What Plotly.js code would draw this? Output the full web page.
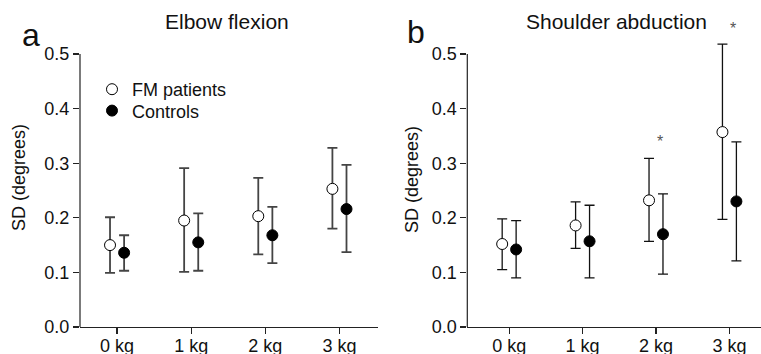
<!DOCTYPE html>
<html>
<head>
<meta charset="utf-8">
<script src="https://cdn.plot.ly/plotly-3.0.1.min.js"></script>
<style>html,body{margin:0;padding:0;background:#fff;}#chart{width:761px;height:354px;}</style>
</head>
<body>
<div id="chart"></div>
<script>
// ---- data ----
var categories = ['0 kg', '1 kg', '2 kg', '3 kg'];
var seriesNames = ['FM patients', 'Controls'];
var yTicks = [0, 0.1, 0.2, 0.3, 0.4, 0.5];

var elbowFM      = [0.150, 0.195, 0.203, 0.253];
var elbowFMHigh  = [0.201, 0.291, 0.273, 0.328];
var elbowFMLow   = [0.099, 0.101, 0.133, 0.180];
var elbowCtrl     = [0.136, 0.155, 0.168, 0.216];
var elbowCtrlHigh = [0.168, 0.208, 0.220, 0.297];
var elbowCtrlLow  = [0.103, 0.103, 0.117, 0.137];

var shoulderFM      = [0.152, 0.186, 0.232, 0.357];
var shoulderFMHigh  = [0.198, 0.229, 0.309, 0.518];
var shoulderFMLow   = [0.105, 0.144, 0.157, 0.197];
var shoulderCtrl     = [0.142, 0.157, 0.170, 0.230];
var shoulderCtrlHigh = [0.195, 0.223, 0.244, 0.339];
var shoulderCtrlLow  = [0.090, 0.090, 0.097, 0.121];

var sigCategories = ['2 kg', '3 kg'];
var sigValues = [0.340, 0.547];

// ---- build ----
var FONT = 'Arial, "Liberation Sans", Helvetica, sans-serif';
var idx = categories.map(function (c, i) { return i; });
function shift(d) { return idx.map(function (i) { return i + d; }); }
function up(hi, v) { return hi.map(function (h, i) { return +(h - v[i]).toFixed(4); }); }
function down(lo, v) { return lo.map(function (l, i) { return +(v[i] - l).toFixed(4); }); }

function trace(x, y, hi, lo, filled, name, xa, ya, showleg, leg, ecol, ethick) {
  return {
    type: 'scatter', mode: 'markers', x: x, y: y, name: name,
    xaxis: xa, yaxis: ya, showlegend: showleg, legend: leg,
    cliponaxis: false,
    marker: { symbol: 'circle', size: 11, color: filled ? '#000' : '#fff',
              line: { color: '#000', width: 1 } },
    error_y: { type: 'data', symmetric: false, array: up(hi, y), arrayminus: down(lo, y),
               color: ecol, thickness: ethick, width: 5 }
  };
}

var off = 0.095;
var data = [
  trace(shift(-off), elbowFM, elbowFMHigh, elbowFMLow, false, seriesNames[0], 'x', 'y', true, 'legend', '#444', 1.8),
  trace(shift(off), elbowCtrl, elbowCtrlHigh, elbowCtrlLow, true, seriesNames[1], 'x', 'y', true, 'legend2', '#444', 1.8),
  trace(shift(-off), shoulderFM, shoulderFMHigh, shoulderFMLow, false, seriesNames[0], 'x2', 'y2', false, 'legend', '#111', 1.3),
  trace(shift(off), shoulderCtrl, shoulderCtrlHigh, shoulderCtrlLow, true, seriesNames[1], 'x2', 'y2', false, 'legend2', '#111', 1.3)
];

var W = 761, H = 354;
function px(x) { return x / W; }
function py(y) { return (H - y) / H; }

function xax(domain, range, anchor) {
  return {
    domain: domain, range: range, anchor: anchor, showgrid: false, zeroline: false,
    showline: true, linecolor: '#222', linewidth: 1.2,
    ticks: 'outside', ticklen: 6, tickwidth: 1.2, tickcolor: '#222',
    tickvals: idx, ticktext: categories, ticklabelstandoff: -4,
    tickfont: { family: FONT, size: 18, color: '#111' }, fixedrange: true
  };
}
function yax(anchor) {
  return {
    domain: [py(327), py(21.24)], range: [0, 0.56], anchor: anchor,
    showgrid: false, zeroline: false, showline: false,
    ticks: 'outside', ticklen: 6, tickwidth: 1.2, tickcolor: '#222',
    tickvals: yTicks, tickformat: '.1f',
    tickfont: { family: FONT, size: 18, color: '#111' }, fixedrange: true
  };
}

var shapes = [
  { type: 'line', xref: 'x domain', yref: 'y', x0: 0, x1: 0, y0: 0, y1: yTicks[yTicks.length - 1],
    line: { color: '#222', width: 1.2 } },
  { type: 'line', xref: 'x2 domain', yref: 'y2', x0: 0, x1: 0, y0: 0, y1: yTicks[yTicks.length - 1],
    line: { color: '#222', width: 1.2 } }
];

var annotations = [
  { text: 'Elbow flexion', x: px(227), y: py(22), xref: 'paper', yref: 'paper', showarrow: false,
    xanchor: 'center', yanchor: 'middle', font: { family: FONT, size: 21, color: '#111' } },
  { text: 'Shoulder abduction', x: px(616), y: py(22), xref: 'paper', yref: 'paper', showarrow: false,
    xanchor: 'center', yanchor: 'middle', font: { family: FONT, size: 21, color: '#111' } },
  { text: 'a', x: px(31), y: py(35), xref: 'paper', yref: 'paper', showarrow: false,
    xanchor: 'center', yanchor: 'middle', font: { family: FONT, size: 32, color: '#111' } },
  { text: 'b', x: px(416), y: py(32), xref: 'paper', yref: 'paper', showarrow: false,
    xanchor: 'center', yanchor: 'middle', font: { family: FONT, size: 32, color: '#111' } },
  { text: 'SD (degrees)', x: px(19), y: py(178), xref: 'paper', yref: 'paper', showarrow: false,
    textangle: -90, xanchor: 'center', yanchor: 'middle', font: { family: FONT, size: 18, color: '#111' } },
  { text: 'SD (degrees)', x: px(412), y: py(180), xref: 'paper', yref: 'paper', showarrow: false,
    textangle: -90, xanchor: 'center', yanchor: 'middle', font: { family: FONT, size: 18, color: '#111' } }
];
sigCategories.forEach(function (c, i) {
  annotations.push({ text: '*', x: categories.indexOf(c) + 0.05, y: sigValues[i], xref: 'x2', yref: 'y2',
    showarrow: false, xanchor: 'center', yanchor: 'middle',
    font: { family: FONT, size: 16, color: '#555' } });
});

var legendBase = { xanchor: 'left', yanchor: 'top', bgcolor: 'rgba(0,0,0,0)',
                   font: { family: FONT, size: 18, color: '#111' } };
var layout = {
  width: W, height: H,
  margin: { l: 0, r: 0, t: 0, b: 0 },
  paper_bgcolor: '#fff', plot_bgcolor: '#fff',
  font: { family: FONT, color: '#111' },
  xaxis: xax([px(80), px(378)], [-0.5, 3.52], 'y'),
  yaxis: yax('x'),
  xaxis2: xax([px(467.3), 1], [-0.57, 3.43], 'y2'),
  yaxis2: yax('x2'),
  showlegend: true,
  legend: Object.assign({ x: px(92), y: py(71) }, legendBase),
  legend2: Object.assign({ x: px(92), y: py(92.4) }, legendBase),
  shapes: shapes,
  annotations: annotations
};

Plotly.newPlot('chart', data, layout, { displayModeBar: false, staticPlot: true });
</script>
</body>
</html>
